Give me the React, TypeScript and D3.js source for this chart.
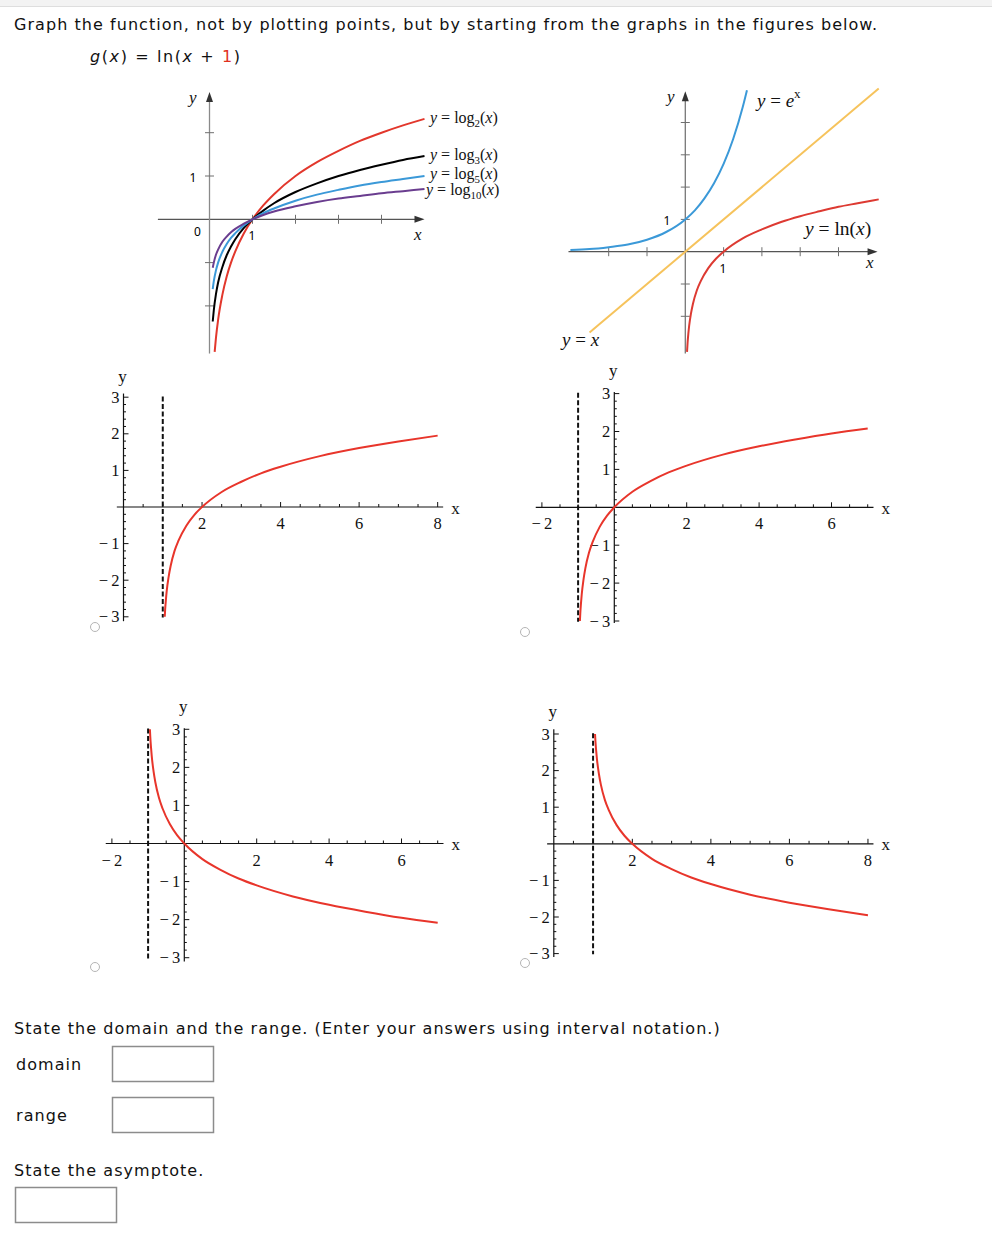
import { useEffect, useRef } from "react";
import * as d3 from "d3";

const SERIF = "'Liberation Serif', 'Times New Roman', serif";
const SANS = "'DejaVu Sans', Verdana, sans-serif";
const LABEL_SANS = "'Noto Sans', 'Open Sans', sans-serif";

// ---- top-left figure: logarithms of several bases ----
const logX = [0.075, 0.1, 0.15, 0.2, 0.3, 0.4, 0.5, 0.6, 0.8, 1, 1.25, 1.5, 2, 2.5, 3, 3.5, 4, 4.5, 5];
const log2X = [0.12, 0.15, 0.2, 0.3, 0.4, 0.5, 0.6, 0.8, 1, 1.25, 1.5, 2, 2.5, 3, 3.5, 4, 4.5, 5];
const log2Y = [-3.06, -2.74, -2.32, -1.74, -1.32, -1, -0.74, -0.32, 0, 0.32, 0.58, 1, 1.32, 1.58, 1.81, 2, 2.17, 2.32];
const log3Y = [-2.36, -2.1, -1.73, -1.46, -1.1, -0.83, -0.63, -0.46, -0.2, 0, 0.2, 0.37, 0.63, 0.83, 1, 1.14, 1.26, 1.37, 1.46];
const log5Y = [-1.61, -1.43, -1.18, -1, -0.75, -0.57, -0.43, -0.32, -0.14, 0, 0.14, 0.25, 0.43, 0.57, 0.68, 0.78, 0.86, 0.93, 1];
const log10Y = [-1.12, -1, -0.82, -0.7, -0.52, -0.4, -0.3, -0.22, -0.1, 0, 0.1, 0.18, 0.3, 0.4, 0.48, 0.54, 0.6, 0.65, 0.7];
const tlXTicks = [1, 2, 3, 4];
const tlYTicks = [-2, -1, 1, 2];

// ---- top-right figure: e^x, y = x, ln(x) ----
const expX = [-3, -2.5, -2, -1.5, -1, -0.5, 0, 0.25, 0.5, 0.75, 1, 1.25, 1.5, 1.61];
const expY = [0.05, 0.08, 0.14, 0.22, 0.37, 0.61, 1, 1.28, 1.65, 2.12, 2.72, 3.49, 4.48, 5.0];
const identX = [-2.5, 5.05];
const identY = [-2.5, 5.05];
const lnX = [0.045, 0.06, 0.08, 0.1, 0.15, 0.2, 0.3, 0.4, 0.6, 0.8, 1, 1.5, 2, 2.5, 3, 3.5, 4, 4.5, 5.05];
const lnY = [-3.1, -2.81, -2.53, -2.3, -1.9, -1.61, -1.2, -0.92, -0.51, -0.22, 0, 0.41, 0.69, 0.92, 1.1, 1.25, 1.39, 1.5, 1.62];
const trXTicks = [-2, -1, 1, 2, 3, 4];
const trYTicks = [-2, -1, 1, 2, 3, 4];

// ---- answer choices ----
const choiceAX = [1.05, 1.06, 1.08, 1.1, 1.15, 1.2, 1.3, 1.4, 1.6, 1.8, 2, 2.5, 3, 3.5, 4, 5, 6, 7, 8];
const choiceAY = [-3, -2.81, -2.53, -2.3, -1.9, -1.61, -1.2, -0.92, -0.51, -0.22, 0, 0.41, 0.69, 0.92, 1.1, 1.39, 1.61, 1.79, 1.95];
const choiceBX = [-0.95, -0.94, -0.92, -0.9, -0.85, -0.8, -0.7, -0.6, -0.4, -0.2, 0, 0.5, 1, 1.5, 2, 3, 4, 5, 6, 7];
const choiceBY = [-3, -2.81, -2.53, -2.3, -1.9, -1.61, -1.2, -0.92, -0.51, -0.22, 0, 0.41, 0.69, 0.92, 1.1, 1.39, 1.61, 1.79, 1.95, 2.08];
const choiceCX = [-0.95, -0.94, -0.92, -0.9, -0.85, -0.8, -0.7, -0.6, -0.4, -0.2, 0, 0.5, 1, 1.5, 2, 3, 4, 5, 6, 7];
const choiceCY = [3, 2.81, 2.53, 2.3, 1.9, 1.61, 1.2, 0.92, 0.51, 0.22, 0, -0.41, -0.69, -0.92, -1.1, -1.39, -1.61, -1.79, -1.95, -2.08];
const choiceDX = [1.05, 1.06, 1.08, 1.1, 1.15, 1.2, 1.3, 1.4, 1.6, 1.8, 2, 2.5, 3, 3.5, 4, 5, 6, 7, 8];
const choiceDY = [3, 2.81, 2.53, 2.3, 1.9, 1.61, 1.2, 0.92, 0.51, 0.22, 0, -0.41, -0.69, -0.92, -1.1, -1.39, -1.61, -1.79, -1.95];
const asymptoteX = [1, -1, -1, 1];
const posXTicks = [2, 4, 6, 8];
const wideXTicks = [-2, 2, 4, 6];
const choiceYTicks = [-3, -2, -1, 1, 2, 3];

type G = d3.Selection<SVGGElement, unknown, null, undefined>;
type Seg = { t: string; i?: boolean; sub?: boolean; sup?: boolean };

function curve(g: G, xs: number[], ys: number[], sx: any, sy: any, color: string, w = 2) {
  const pts = xs.map((x, i) => [x, ys[i]] as [number, number]);
  g.append("path")
    .datum(pts)
    .attr("d", d3.line<[number, number]>().x((d) => sx(d[0])).y((d) => sy(d[1])).curve(d3.curveMonotoneX))
    .attr("fill", "none")
    .attr("stroke", color)
    .attr("stroke-width", w);
}

function mathText(g: G, x: number, y: number, segs: Seg[], size: number) {
  const t = g.append("text").attr("x", x).attr("y", y).attr("font-family", SERIF).attr("font-size", size).attr("fill", "#111");
  let shift = 0;
  segs.forEach((s) => {
    const target = s.sub ? size * 0.28 : s.sup ? -size * 0.45 : 0;
    const ts = t.append("tspan").attr("dy", target - shift).text(s.t);
    if (s.i) ts.attr("font-style", "italic");
    if (s.sub || s.sup) ts.attr("font-size", size * 0.68);
    shift = target;
  });
}

function arrow(g: G, x: number, y: number, dir: "up" | "right", color: string) {
  const pts = dir === "up" ? [[x, y], [x - 3.5, y + 10], [x + 3.5, y + 10]] : [[x, y], [x - 10, y - 3.5], [x - 10, y + 3.5]];
  g.append("polygon").attr("points", pts.map((p) => p.join(",")).join(" ")).attr("fill", color);
}

function logPanel(g: G) {
  const sx = d3.scaleLinear().domain([0, 1]).range([209.5, 252.5]);
  const sy = d3.scaleLinear().domain([0, 1]).range([219.3, 176]);
  const ax = "#6f6f6f";
  g.append("line").attr("x1", sx(-1.2)).attr("x2", sx(4.85)).attr("y1", sy(0)).attr("y2", sy(0)).attr("stroke", "#555").attr("stroke-width", 1.3);
  g.append("line").attr("x1", sx(0)).attr("x2", sx(0)).attr("y1", sy(-3.1)).attr("y2", sy(2.75)).attr("stroke", "#8a8a8a").attr("stroke-width", 1.3);
  arrow(g, sx(5.0), sy(0), "right", "#333");
  arrow(g, sx(0), sy(2.94), "up", "#333");
  tlXTicks.forEach((t) => g.append("line").attr("x1", sx(t)).attr("x2", sx(t)).attr("y1", sy(0) - 4.5).attr("y2", sy(0) + 4.5).attr("stroke", ax));
  tlYTicks.forEach((t) => g.append("line").attr("y1", sy(t)).attr("y2", sy(t)).attr("x1", sx(0) - 4.5).attr("x2", sx(0) + 4.5).attr("stroke", ax));

  curve(g, log2X, log2Y, sx, sy, "#e2372c");
  curve(g, logX, log3Y, sx, sy, "#000");
  curve(g, logX, log5Y, sx, sy, "#3b99d8");
  curve(g, logX, log10Y, sx, sy, "#6a3d8f");

  g.append("text").attr("x", 193).attr("y", 181.5).attr("text-anchor", "middle").attr("font-family", LABEL_SANS).attr("font-size", 12).text("1");
  g.append("text").attr("x", 197.5).attr("y", 236).attr("text-anchor", "middle").attr("font-family", LABEL_SANS).attr("font-size", 12).text("0");
  g.append("text").attr("x", 252).attr("y", 240).attr("text-anchor", "middle").attr("font-family", LABEL_SANS).attr("font-size", 12).text("1");
  mathText(g, 189, 103, [{ t: "y", i: true }], 17);
  mathText(g, 414, 240, [{ t: "x", i: true }], 17);

  const lab = (y: number, x: number, base: string) =>
    mathText(g, x, y, [{ t: "y", i: true }, { t: " = log" }, { t: base, sub: true }, { t: "(" }, { t: "x", i: true }, { t: ")" }], 16);
  lab(123, 430, "2");
  lab(160, 430, "3");
  lab(179, 430, "5");
  lab(194.5, 426, "10");
}

function expPanel(g: G) {
  const sx = d3.scaleLinear().domain([0, 1]).range([685.3, 723.6]);
  const sy = d3.scaleLinear().domain([0, 1]).range([251.7, 219.4]);
  const ax = "#6f6f6f";
  g.append("line").attr("x1", sx(-3.05)).attr("x2", sx(4.8)).attr("y1", sy(0)).attr("y2", sy(0)).attr("stroke", "#555").attr("stroke-width", 1.3);
  g.append("line").attr("x1", sx(0)).attr("x2", sx(0)).attr("y1", sy(-3.15)).attr("y2", sy(4.7)).attr("stroke", "#777").attr("stroke-width", 1.3);
  arrow(g, sx(5.02), sy(0), "right", "#333");
  arrow(g, sx(0), sy(4.97), "up", "#333");
  trXTicks.forEach((t) => g.append("line").attr("x1", sx(t)).attr("x2", sx(t)).attr("y1", sy(0) - 4.5).attr("y2", sy(0) + 4.5).attr("stroke", ax));
  trYTicks.forEach((t) => g.append("line").attr("y1", sy(t)).attr("y2", sy(t)).attr("x1", sx(0) - 4.5).attr("x2", sx(0) + 4.5).attr("stroke", ax));

  curve(g, identX, identY, sx, sy, "#f6c35c");
  curve(g, expX, expY, sx, sy, "#3b99d8");
  curve(g, lnX, lnY, sx, sy, "#dd3a32");

  g.append("text").attr("x", 667).attr("y", 224.5).attr("text-anchor", "middle").attr("font-family", LABEL_SANS).attr("font-size", 12).text("1");
  g.append("text").attr("x", 723).attr("y", 272.5).attr("text-anchor", "middle").attr("font-family", LABEL_SANS).attr("font-size", 12).text("1");
  mathText(g, 667, 102, [{ t: "y", i: true }], 17);
  mathText(g, 866, 268, [{ t: "x", i: true }], 17);
  mathText(g, 757, 107, [{ t: "y", i: true }, { t: " = " }, { t: "e", i: true }, { t: "x", sup: true }], 19);
  mathText(g, 805, 235, [{ t: "y", i: true }, { t: " = ln(" }, { t: "x", i: true }, { t: ")" }], 19.5);
  mathText(g, 562, 346, [{ t: "y", i: true }, { t: " = " }, { t: "x", i: true }], 19);
}

interface ChoiceCfg {
  ox: number; oy: number; ux: number; uy: number;
  xMin: number; xMax: number; yMin: number; yMax: number;
  xs: number[]; ys: number[]; asym: number; xTicks: number[]; yLabelGap: number;
}

function fmt(v: number) {
  return v < 0 ? `\u2212\u2009${-v}` : `${v}`;
}

function choicePanel(g: G, c: ChoiceCfg) {
  const sx = d3.scaleLinear().domain([0, 1]).range([c.ox, c.ox + c.ux]);
  const sy = d3.scaleLinear().domain([0, 1]).range([c.oy, c.oy - c.uy]);
  const ink = "#111";
  g.append("line").attr("x1", sx(c.xMin)).attr("x2", sx(c.xMax)).attr("y1", sy(0)).attr("y2", sy(0)).attr("stroke", ink).attr("stroke-width", 1.2);
  g.append("line").attr("x1", sx(0)).attr("x2", sx(0)).attr("y1", sy(c.yMin)).attr("y2", sy(c.yMax)).attr("stroke", ink).attr("stroke-width", 1.2);

  // minor ticks: x every 0.5, y every 0.2
  const xMinor = d3.range(Math.ceil(c.xMin * 2) / 2, c.xMax + 1e-6, 0.5).filter((v) => Math.abs(v) > 1e-6);
  xMinor.forEach((v) => {
    const major = c.xTicks.includes(v);
    g.append("line").attr("x1", sx(v)).attr("x2", sx(v)).attr("y1", sy(0)).attr("y2", sy(0) - (major ? 5 : 3)).attr("stroke", ink).attr("stroke-width", 1);
  });
  const yMinor = d3.range(-15, 16).map((k) => k / 5).filter((v) => v !== 0);
  yMinor.forEach((v) => {
    const major = Number.isInteger(Math.round(v * 1000) / 1000);
    g.append("line").attr("y1", sy(v)).attr("y2", sy(v)).attr("x1", sx(0)).attr("x2", sx(0) + (major ? 5 : 2.5)).attr("stroke", ink).attr("stroke-width", 1);
  });

  c.xTicks.forEach((t) =>
    g.append("text").attr("x", sx(t)).attr("y", sy(0) + 22).attr("text-anchor", "middle").attr("font-family", SERIF).attr("font-size", 16.5).attr("fill", ink).text(fmt(t))
  );
  choiceYTicks.forEach((t) =>
    g.append("text").attr("x", sx(0) - 4).attr("y", sy(t) + 5.5).attr("text-anchor", "end").attr("font-family", SERIF).attr("font-size", 16.5).attr("fill", ink).text(fmt(t))
  );
  g.append("text").attr("x", sx(0) - 1).attr("y", sy(c.yMax) - c.yLabelGap).attr("text-anchor", "middle").attr("font-family", SERIF).attr("font-size", 17).attr("fill", ink).text("y");
  g.append("text").attr("x", sx(c.xMax) + 8).attr("y", sy(0) + 6.5).attr("font-family", SERIF).attr("font-size", 17).attr("fill", ink).text("x");

  g.append("line").attr("x1", sx(c.asym)).attr("x2", sx(c.asym)).attr("y1", sy(3.02)).attr("y2", sy(-3.02))
    .attr("stroke", "#111").attr("stroke-width", 2).attr("stroke-dasharray", "5,2.5");
  curve(g, c.xs, c.ys, sx, sy, "#e8352b", 2);
}

export default function App() {
  const ref = useRef<SVGSVGElement>(null);

  useEffect(() => {
    const svg = d3.select(ref.current);
    svg.selectAll("*").remove();
    const g = svg.append("g") as unknown as G;

    // page chrome
    g.append("rect").attr("x", 0).attr("y", 0).attr("width", 992).attr("height", 6).attr("fill", "#f3f3f3");
    g.append("line").attr("x1", 0).attr("x2", 992).attr("y1", 6.5).attr("y2", 6.5).attr("stroke", "#dedede");

    const prose = (x: number, y: number) =>
      g.append("text").attr("x", x).attr("y", y).attr("font-family", SANS).attr("font-size", 16).attr("letter-spacing", 1.05).attr("fill", "#111");

    prose(14, 30).text("Graph the function, not by plotting points, but by starting from the graphs in the figures below.");
    const fx = prose(90, 62).attr("letter-spacing", 1.6);
    fx.append("tspan").attr("font-style", "italic").text("g");
    fx.append("tspan").text("(");
    fx.append("tspan").attr("font-style", "italic").text("x");
    fx.append("tspan").text(") = ln(");
    fx.append("tspan").attr("font-style", "italic").text("x");
    fx.append("tspan").text(" + ");
    fx.append("tspan").attr("fill", "#e0301e").text("1");
    fx.append("tspan").text(")");

    logPanel(g);
    expPanel(g);

    choicePanel(g, { ox: 123.5, oy: 507, ux: 39.27, uy: 36.6, xMin: -0.17, xMax: 8.14, yMin: -3.12, yMax: 3.1, xs: choiceAX, ys: choiceAY, asym: asymptoteX[0], xTicks: posXTicks, yLabelGap: 12 });
    choicePanel(g, { ox: 614.3, oy: 507.3, ux: 36.2, uy: 37.9, xMin: -2.17, xMax: 7.16, yMin: -3.05, yMax: 3.04, xs: choiceBX, ys: choiceBY, asym: asymptoteX[1], xTicks: wideXTicks, yLabelGap: 16.5 });
    choicePanel(g, { ox: 184.3, oy: 843.5, ux: 36.2, uy: 38.07, xMin: -2.17, xMax: 7.16, yMin: -3.1, yMax: 3.03, xs: choiceCX, ys: choiceCY, asym: asymptoteX[2], xTicks: wideXTicks, yLabelGap: 16 });
    choicePanel(g, { ox: 553.8, oy: 843.8, ux: 39.27, uy: 36.6, xMin: -0.17, xMax: 8.14, yMin: -3.09, yMax: 3.13, xs: choiceDX, ys: choiceDY, asym: asymptoteX[3], xTicks: posXTicks, yLabelGap: 12 });

    // radio buttons
    [[95, 627], [525, 632], [95, 967], [525, 963]].forEach(([cx, cy]) =>
      g.append("circle").attr("cx", cx).attr("cy", cy).attr("r", 4.5).attr("fill", "#fff").attr("stroke", "#b5b5b5").attr("stroke-width", 1)
    );

    // questions
    prose(14, 1034).text("State the domain and the range. (Enter your answers using interval notation.)");
    prose(16, 1070).text("domain");
    prose(16, 1121).text("range");
    prose(14, 1176).text("State the asymptote.");
    [[112.5, 1046.5], [112.5, 1097.5], [15.5, 1187.5]].forEach(([x, y]) =>
      g.append("rect").attr("x", x).attr("y", y).attr("width", 101).attr("height", 35).attr("fill", "#fff").attr("stroke", "#8c8c8c").attr("stroke-width", 1.5)
    );
  }, []);

  return <svg ref={ref} width={992} height={1236} style={{ position: "absolute", left: 0, top: 0, background: "#fff" }} />;
}
